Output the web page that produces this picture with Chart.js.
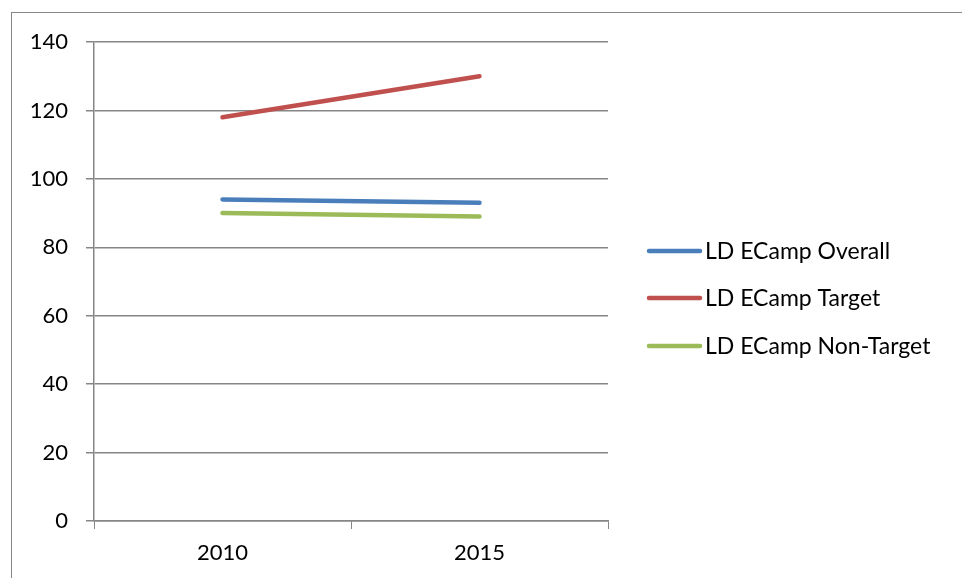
<!DOCTYPE html>
<html>
<head>
<meta charset="utf-8">
<title>LD ECamp</title>
<script src="https://cdn.jsdelivr.net/npm/chart.js@4/dist/chart.umd.min.js"></script>
<style>
    html, body { margin: 0; padding: 0; background: #ffffff; overflow: hidden; }
    #frame { position: absolute; left: 11px; top: 12px; width: 1200px; height: 900px; border: 1px solid #868686; }
    #wrap { position: absolute; left: 0; top: 0; width: 962px; height: 578px; }
</style>
</head>
<body>
<div id="frame"></div>
<div id="wrap"><canvas id="chart" width="962" height="578"></canvas></div>
<script>
// Chart data
const years = ['2010', '2015'];
const overall = [94, 93];
const target = [118, 130];
const nonTarget = [90, 89];
const seriesNames = ['LD ECamp Overall', 'LD ECamp Target', 'LD ECamp Non-Target'];
const seriesColors = ['#4A7EBB', '#C0504D', '#9BBB59'];

const FONT = 'Lato, "Open Sans", sans-serif';

/**
 * Draw the legend on the right side, Excel style
 */
const sideLegend = {
    id: 'sideLegend',
    afterDraw(chart) {
        const ctx = chart.ctx;
        const rows = [251, 298, 346];
        ctx.save();
        chart.data.datasets.forEach((ds, i) => {
            const y = rows[i];
            ctx.strokeStyle = ds.borderColor;
            ctx.lineWidth = 4.5;
            ctx.lineCap = 'round';
            ctx.beginPath();
            ctx.moveTo(649, y);
            ctx.lineTo(700, y);
            ctx.stroke();
            ctx.fillStyle = '#000000';
            ctx.font = '23px ' + FONT;
            ctx.textAlign = 'left';
            ctx.textBaseline = 'middle';
            ctx.fillText(ds.label, 705, y + 1);
        });
        ctx.restore();
    }
};

new Chart(document.getElementById('chart'), {
    type: 'line',
    data: {
        labels: years,
        datasets: [overall, target, nonTarget].map((values, i) => ({
            label: seriesNames[i],
            data: values,
            borderColor: seriesColors[i],
            backgroundColor: seriesColors[i],
            borderWidth: 4.5,
            borderCapStyle: 'round',
            pointRadius: 0,
            tension: 0
        }))
    },
    options: {
        responsive: false,
        animation: false,
        layout: { padding: { top: 42, right: 354, bottom: 0, left: 0 } },
        plugins: {
            legend: { display: false },
            tooltip: { enabled: false }
        },
        scales: {
            x: {
                offset: true,
                afterFit: scale => { scale.height = 57; },
                grid: {
                    offset: true,
                    drawOnChartArea: false,
                    drawTicks: true,
                    tickLength: 8,
                    color: '#868686'
                },
                border: { color: '#868686', width: 1.5 },
                ticks: {
                    color: '#000000',
                    padding: 11,
                    font: { family: FONT, size: 22 },
                    maxRotation: 0
                }
            },
            y: {
                min: 0,
                max: 140,
                afterFit: scale => { scale.width = 94; },
                grid: {
                    color: '#868686',
                    lineWidth: 1.5,
                    tickLength: 8
                },
                border: { color: '#868686', width: 1.5 },
                ticks: {
                    stepSize: 20,
                    color: '#000000',
                    padding: 18,
                    font: { family: FONT, size: 22 }
                }
            }
        }
    },
    plugins: [sideLegend]
});
</script>
</body>
</html>
